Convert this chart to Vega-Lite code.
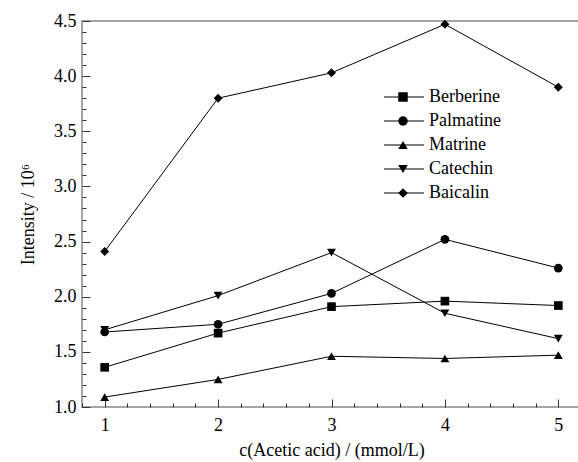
{
  "$schema": "https://vega.github.io/schema/vega-lite/v6.json",
  "width": 499,
  "height": 386,
  "autosize": "none",
  "padding": {"left": 82, "top": 21, "right": 0, "bottom": 55},
  "background": "white",
  "config": {
    "font": "Liberation Serif",
    "view": {"stroke": "#888888", "strokeWidth": 1.5},
    "axis": {
      "grid": false,
      "domain": false,
      "labelFont": "Liberation Serif",
      "titleFont": "Liberation Serif",
      "labelFontSize": 18,
      "titleFontSize": 18,
      "titleFontWeight": "normal",
      "labelColor": "#000000",
      "titleColor": "#000000",
      "tickColor": "#333333",
      "tickWidth": 1,
      "labelOverlap": false
    },
    "legend": {
      "labelFont": "Liberation Serif",
      "labelFontSize": 18,
      "labelColor": "#000000",
      "padding": 0,
      "rowPadding": 6
    }
  },
  "data": {
    "values": [
      {"c": 1, "intensity": 1.36, "compound": "Berberine"},
      {"c": 2, "intensity": 1.67, "compound": "Berberine"},
      {"c": 3, "intensity": 1.91, "compound": "Berberine"},
      {"c": 4, "intensity": 1.96, "compound": "Berberine"},
      {"c": 5, "intensity": 1.92, "compound": "Berberine"},
      {"c": 1, "intensity": 1.68, "compound": "Palmatine"},
      {"c": 2, "intensity": 1.75, "compound": "Palmatine"},
      {"c": 3, "intensity": 2.03, "compound": "Palmatine"},
      {"c": 4, "intensity": 2.52, "compound": "Palmatine"},
      {"c": 5, "intensity": 2.26, "compound": "Palmatine"},
      {"c": 1, "intensity": 1.09, "compound": "Matrine"},
      {"c": 2, "intensity": 1.25, "compound": "Matrine"},
      {"c": 3, "intensity": 1.46, "compound": "Matrine"},
      {"c": 4, "intensity": 1.44, "compound": "Matrine"},
      {"c": 5, "intensity": 1.47, "compound": "Matrine"},
      {"c": 1, "intensity": 1.70, "compound": "Catechin"},
      {"c": 2, "intensity": 2.01, "compound": "Catechin"},
      {"c": 3, "intensity": 2.40, "compound": "Catechin"},
      {"c": 4, "intensity": 1.85, "compound": "Catechin"},
      {"c": 5, "intensity": 1.62, "compound": "Catechin"},
      {"c": 1, "intensity": 2.41, "compound": "Baicalin"},
      {"c": 2, "intensity": 3.80, "compound": "Baicalin"},
      {"c": 3, "intensity": 4.03, "compound": "Baicalin"},
      {"c": 4, "intensity": 4.47, "compound": "Baicalin"},
      {"c": 5, "intensity": 3.90, "compound": "Baicalin"}
    ]
  },
  "layer": [
    {
      "mark": {"type": "line", "strokeWidth": 1, "color": "#000000"},
      "encoding": {
        "x": {
          "field": "c", "type": "quantitative",
          "scale": {"domain": [0.8, 5.2], "nice": false, "zero": false},
          "axis": {
            "orient": "bottom",
            "title": "c(Acetic acid) / (mmol/L)",
            "values": [1, 2, 3, 4, 5],
            "format": "d",
            "tickSize": -8,
            "labelPadding": 17,
            "titlePadding": 7
          }
        },
        "y": {
          "field": "intensity", "type": "quantitative",
          "scale": {"domain": [1, 4.5], "nice": false, "zero": false},
          "axis": {
            "orient": "left",
            "title": "Intensity / 10⁶",
            "values": [1.0, 1.5, 2.0, 2.5, 3.0, 3.5, 4.0, 4.5],
            "format": ".1f",
            "tickSize": -8,
            "labelPadding": 14,
            "titlePadding": 16
          }
        },
        "stroke": {
          "field": "compound", "type": "nominal",
          "scale": {
            "domain": ["Berberine", "Palmatine", "Matrine", "Catechin", "Baicalin"],
            "range": ["#000000", "#000000", "#000000", "#000000", "#000000"]
          },
          "legend": {
            "title": null,
            "orient": "none",
            "legendX": 313,
            "legendY": 67,
            "symbolType": "M-8,0H8",
            "symbolSize": 25,
            "symbolStrokeWidth": 1,
            "labelExpr": "''"
          }
        }
      }
    },
    {
      "mark": {"type": "point", "filled": true, "opacity": 1, "color": "#000000"},
      "encoding": {
        "x": {
          "field": "c", "type": "quantitative",
          "axis": {
            "orient": "bottom",
            "title": null,
            "values": [0.8, 1.2, 1.4, 1.6, 1.8, 2.2, 2.4, 2.6, 2.8, 3.2, 3.4, 3.6, 3.8, 4.2, 4.4, 4.6, 4.8, 5.2],
            "labels": false,
            "tickSize": -4
          }
        },
        "y": {
          "field": "intensity", "type": "quantitative",
          "axis": {
            "orient": "left",
            "title": null,
            "values": [1.1, 1.2, 1.3, 1.4, 1.6, 1.7, 1.8, 1.9, 2.1, 2.2, 2.3, 2.4, 2.6, 2.7, 2.8, 2.9, 3.1, 3.2, 3.3, 3.4, 3.6, 3.7, 3.8, 3.9, 4.1, 4.2, 4.3, 4.4],
            "labels": false,
            "tickSize": -4
          }
        },
        "shape": {
          "field": "compound", "type": "nominal",
          "sort": ["Berberine", "Palmatine", "Matrine", "Catechin", "Baicalin"],
          "scale": {"range": ["square", "circle", "triangle-up", "triangle-down", "diamond"]},
          "legend": {
            "title": null,
            "orient": "none",
            "legendX": 312,
            "legendY": 67,
            "symbolSize": 90,
            "symbolFillColor": "#000000",
            "symbolStrokeWidth": 0,
            "labelOffset": 17
          }
        },
        "size": {
          "field": "compound", "type": "nominal",
          "sort": ["Berberine", "Palmatine", "Matrine", "Catechin", "Baicalin"],
          "scale": {"range": [75, 80, 100, 100, 120]},
          "legend": null
        }
      }
    }
  ],
  "resolve": {"axis": {"x": "independent", "y": "independent"}}
}
